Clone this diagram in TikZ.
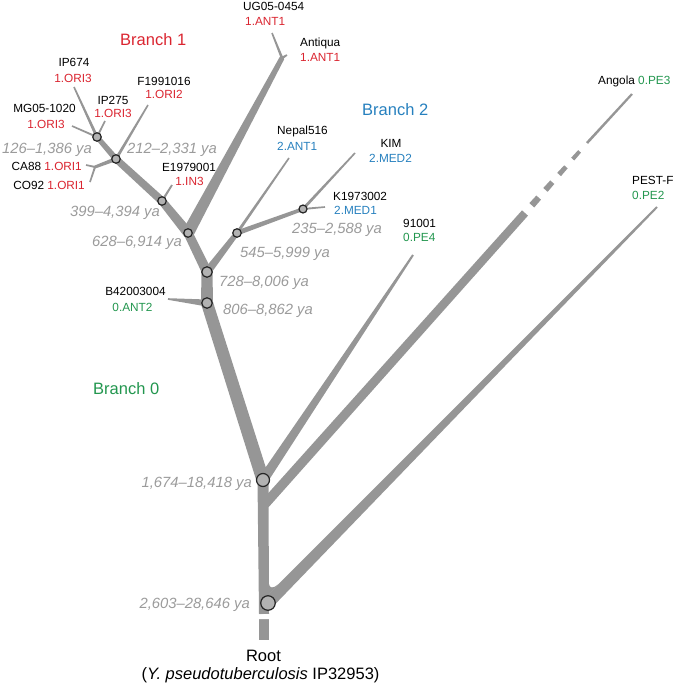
\documentclass[tikz,border=0pt]{standalone}
\usepackage{fontspec}
\setmainfont{Liberation Sans}
\usetikzlibrary{calc}
\definecolor{brg}{RGB}{150,150,150}
\definecolor{nodefill}{RGB}{178,178,178}
\definecolor{datec}{RGB}{155,155,155}
\definecolor{bred}{RGB}{218,37,48}
\definecolor{bblue}{RGB}{38,128,190}
\definecolor{bgreen}{RGB}{34,150,78}
\newcommand\tseg[4]{\fill[brg] ($(#1)!#3!90:(#2)$) -- ($(#2)!#4!-90:(#1)$) -- ($(#2)!#4!90:(#1)$) -- ($(#1)!#3!-90:(#2)$) -- cycle;}
\newcommand\tjoint[2]{\fill[brg] (#1) circle[radius=#2];}
\tikzset{
  dnode/.style={circle, draw=black!85, fill=nodefill, line width=1.2pt, inner sep=0pt},
  lab/.style={inner sep=0pt, font=\fontsize{11.8}{14}\selectfont},
  datel/.style={inner sep=0pt, text=datec, font=\fontsize{14.8}{17}\selectfont\itshape},
  brl/.style={inner sep=0pt, font=\fontsize{16.5}{19}\selectfont},
  rootl/.style={inner sep=0pt, font=\fontsize{16.5}{19}\selectfont}
}
\begin{document}
\begin{tikzpicture}[x=1pt,y=-1pt]
\useasboundingbox (0,0) rectangle (677,685);
% ---------- coordinates ----------
\coordinate (rootTop) at (264,614);
\coordinate (rootStubT) at (264,619);
\coordinate (rootStubB) at (264,640);
\coordinate (n2603) at (268,603);
\coordinate (n1674) at (263,480);
\coordinate (n806) at (207,303);
\coordinate (n728) at (207,272);
\coordinate (n628) at (188,233);
\coordinate (n399) at (162,201);
\coordinate (n212) at (116,159);
\coordinate (n126) at (97,137);
\coordinate (n545) at (237,233);
\coordinate (nK) at (303,209);
\coordinate (tUG) at (272,33);
\coordinate (fAnt) at (282,58);
\coordinate (tAnt) at (287,55);
\coordinate (tE) at (172,185);
\coordinate (tF) at (148,105);
\coordinate (fCA) at (95,167);
\coordinate (tCA) at (86,165);
\coordinate (tCO) at (90,182);
\coordinate (tIPa) at (74,87);
\coordinate (tIPb) at (105,121);
\coordinate (tMG) at (72,126);
\coordinate (tNep) at (289,158);
\coordinate (tKIM) at (355,153);
\coordinate (tK) at (325,207);
\coordinate (tB4) at (168,299);
\coordinate (t91) at (413,255);
\coordinate (agF) at (265,504);
\coordinate (ag1) at (525,213);
\coordinate (ag2) at (587,143);
\coordinate (tAng) at (632,94);
\coordinate (tPest) at (657,207);
\coordinate (d1a) at ($(ag1)!0.11!(ag2)$);
\coordinate (d1b) at ($(ag1)!0.22!(ag2)$);
\coordinate (d2a) at ($(ag1)!0.33!(ag2)$);
\coordinate (d2b) at ($(ag1)!0.44!(ag2)$);
\coordinate (d3a) at ($(ag1)!0.55!(ag2)$);
\coordinate (d3b) at ($(ag1)!0.66!(ag2)$);
\coordinate (d4a) at ($(ag1)!0.77!(ag2)$);
\coordinate (d4b) at ($(ag1)!0.88!(ag2)$);
% ---------- branches ----------
\tseg{rootTop}{n1674}{5pt}{5.5pt}
\tseg{rootStubT}{rootStubB}{5pt}{5pt}
\tseg{n2603}{tPest}{6pt}{1pt}
\fill[brg] (269,584) -- (269,594) -- (278,584.5) .. controls (272.5,589) and (269.5,588) .. cycle;
\tseg{agF}{ag1}{4.8pt}{4pt}
\fill[brg] (269,492) -- (269,503) -- (278,489.5) .. controls (273,495) and (269.5,495) .. cycle;
\tseg{d1a}{d1b}{3.3pt}{3.1pt}
\tseg{d2a}{d2b}{2.9pt}{2.7pt}
\tseg{d3a}{d3b}{2.5pt}{2.3pt}
\tseg{d4a}{d4b}{2.1pt}{1.9pt}
\tseg{ag2}{tAng}{1.3pt}{1.1pt}
\tseg{n1674}{t91}{5pt}{1pt}
\tjoint{n1674}{6.5pt}
\tseg{n1674}{n806}{6.5pt}{6pt}
\tjoint{n806}{6pt}
\tseg{n806}{n728}{6pt}{5.5pt}
\tseg{n806}{tB4}{3.5pt}{0.8pt}
\tjoint{n728}{5.5pt}
\tseg{n728}{n628}{5pt}{4.5pt}
\tseg{n728}{n545}{4pt}{2.5pt}
\tseg{n545}{nK}{2.5pt}{1.8pt}
\tseg{nK}{tK}{1pt}{0.8pt}
\tseg{nK}{tKIM}{1.5pt}{0.8pt}
\tseg{n545}{tNep}{1.5pt}{0.8pt}
\tjoint{n628}{5pt}
\tseg{n628}{fAnt}{6pt}{2.5pt}
\tjoint{fAnt}{2.2pt}
\tseg{fAnt}{tUG}{1.3pt}{0.8pt}
\tseg{fAnt}{tAnt}{1.3pt}{0.8pt}
\tseg{n628}{n399}{5pt}{4pt}
\tjoint{n399}{4pt}
\tseg{n399}{tE}{1.2pt}{0.9pt}
\tseg{n399}{n212}{4pt}{3.5pt}
\tjoint{n212}{3.5pt}
\tseg{n212}{n126}{3pt}{2.5pt}
\tseg{n212}{tF}{1.5pt}{0.8pt}
\tseg{n212}{fCA}{2pt}{1.5pt}
\tjoint{fCA}{1.5pt}
\tseg{fCA}{tCA}{1pt}{0.8pt}
\tseg{fCA}{tCO}{1pt}{0.8pt}
\tseg{n126}{tIPa}{1.5pt}{0.8pt}
\tseg{n126}{tIPb}{1pt}{0.8pt}
\tseg{n126}{tMG}{1pt}{0.8pt}
% root break wave
\fill[white] (257,613.5) .. controls (261,617) and (264,611.5) .. (271,615.5) -- (271,619) -- (257,619) -- cycle;
% ---------- node circles ----------
\node[dnode, minimum size=14.5pt] (c2603) at (n2603) {};
\node[dnode, minimum size=13pt] (c1674) at (n1674) {};
\node[dnode, minimum size=10.5pt] (c806) at (n806) {};
\node[dnode, minimum size=10.5pt] (c728) at (n728) {};
\node[dnode, minimum size=8.5pt] (c628) at (n628) {};
\node[dnode, minimum size=8.5pt] (c545) at (n545) {};
\node[dnode, minimum size=8pt] (cK) at (nK) {};
\node[dnode, minimum size=8.5pt] (c399) at (n399) {};
\node[dnode, minimum size=8.5pt] (c212) at (n212) {};
\node[dnode, minimum size=8.5pt] (c126) at (n126) {};
% ---------- labels ----------
\node[lab, anchor=base west] (lUG) at (243,11) {UG05-0454};
\node[lab, anchor=base west, text=bred] (lUGc) at (245,26) {1.ANT1};
\node[lab, anchor=base west] (lAnt) at (300,46.5) {Antiqua};
\node[lab, anchor=base west, text=bred] (lAntc) at (300,61.5) {1.ANT1};
\node[brl, anchor=base west, text=bred] (lB1) at (120,46) {Branch 1};
\node[lab, anchor=base] (lIPa) at (74,66.5) {IP674};
\node[lab, anchor=base, text=bred] (lIPac) at (73,82) {1.ORI3};
\node[lab, anchor=base] (lF) at (164,85.2) {F1991016};
\node[lab, anchor=base, text=bred] (lFc) at (164,98.8) {1.ORI2};
\node[lab, anchor=base] (lIPb) at (113,104.5) {IP275};
\node[lab, anchor=base, text=bred] (lIPbc) at (113,117.8) {1.ORI3};
\node[lab, anchor=base] (lMG) at (44.5,112.5) {MG05-1020};
\node[lab, anchor=base, text=bred] (lMGc) at (46,128) {1.ORI3};
\node[datel, anchor=base east] (d126) at (92,153.6) {126–1,386 ya};
\node[datel, anchor=base west] (d212) at (127,153.3) {212–2,331 ya};
\node[lab, anchor=base east] (lCA) at (82,170) {CA88 \textcolor{bred}{1.ORI1}};
\node[lab, anchor=base east] (lCO) at (85,189.2) {CO92 \textcolor{bred}{1.ORI1}};
\node[lab, anchor=base] (lE) at (189,171) {E1979001};
\node[lab, anchor=base, text=bred] (lEc) at (189.5,185.2) {1.IN3};
\node[datel, anchor=base east] (d399) at (160,216) {399–4,394 ya};
\node[datel, anchor=base east] (d628) at (182,246) {628–6,914 ya};
\node[brl, anchor=base west, text=bblue] (lB2) at (362,115.5) {Branch 2};
\node[lab, anchor=base west] (lNep) at (277,134.2) {Nepal516};
\node[lab, anchor=base west, text=bblue] (lNepc) at (277,150) {2.ANT1};
\node[lab, anchor=base] (lKIM) at (391,147) {KIM};
\node[lab, anchor=base, text=bblue] (lKIMc) at (390.5,162.5) {2.MED2};
\node[lab, anchor=base west] (lK) at (333,200.2) {K1973002};
\node[lab, anchor=base west, text=bblue] (lKc) at (334,214.2) {2.MED1};
\node[datel, anchor=base west] (d235) at (292,233.6) {235–2,588 ya};
\node[datel, anchor=base west] (d545) at (240,257) {545–5,999 ya};
\node[datel, anchor=base west] (d728) at (219,286) {728–8,006 ya};
\node[datel, anchor=base west] (d806) at (223,314.6) {806–8,862 ya};
\node[lab, anchor=base] (lB4) at (135.5,295) {B42003004};
\node[lab, anchor=base, text=bgreen] (lB4c) at (132.5,311) {0.ANT2};
\node[lab, anchor=base west] (l91) at (403,227) {91001};
\node[lab, anchor=base west, text=bgreen] (l91c) at (403,241.5) {0.PE4};
\node[lab, anchor=base west] (lAng) at (598,84.2) {Angola \textcolor{bgreen}{0.PE3}};
\node[lab, anchor=base west] (lPest) at (632,184.2) {PEST-F};
\node[lab, anchor=base west, text=bgreen] (lPestc) at (632,199.2) {0.PE2};
\node[brl, anchor=base west, text=bgreen] (lB0) at (93,394) {Branch 0};
\node[datel, anchor=base east] (d1674) at (252,487) {1,674–18,418 ya};
\node[datel, anchor=base east] (d2603) at (250,608.6) {2,603–28,646 ya};
\node[rootl, anchor=base] (lRoot) at (263.5,661.7) {Root};
\node[rootl, anchor=base] (lRootc) at (260.5,679) {(\textit{Y. pseudotuberculosis} IP32953)};
\end{tikzpicture}
\end{document}
